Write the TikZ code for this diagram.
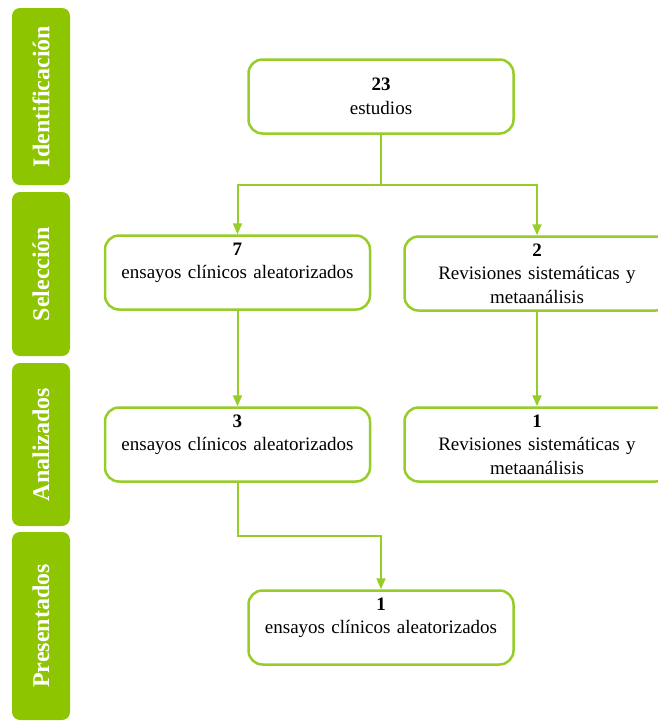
\documentclass[tikz,border=0pt]{standalone}
\usepackage{fontspec}
\setmainfont{Liberation Serif}
\usepackage{tikz}
\usetikzlibrary{arrows.meta,shapes}
\pgfdeclarelayer{edgelayer}
\pgfdeclarelayer{nodelayer}
\pgfsetlayers{edgelayer,nodelayer,main}
\definecolor{tabgreen}{RGB}{141,198,0}
\definecolor{linegreen}{RGB}{150,205,40}
\tikzstyle{stage}=[rectangle, rounded corners=8pt, fill=tabgreen, draw=none, minimum height=58pt, text=white, font=\fontsize{24}{28}\selectfont\bfseries, rotate=90]
\tikzstyle{box}=[rectangle, rounded corners=14pt, fill=white, draw=linegreen, line width=2.5pt, minimum width=265pt, minimum height=74pt, text width=250pt, align=center, font=\fontsize{19}{23.5}\selectfont]
\tikzstyle{link}=[-, draw=linegreen, line width=2pt]
\tikzstyle{arrow}=[-{Triangle[length=11pt,width=9pt]}, draw=linegreen, line width=2pt]

\begin{document}
\begin{tikzpicture}[x=1pt, y=-1pt]
            \useasboundingbox (0,0) rectangle (657,724);
            \begin{pgfonlayer}{nodelayer}
                \node [style=stage, minimum width=177pt] (tabid) at (41, 96.5) {Identificación};
                \node [style=stage, minimum width=164pt] (tabsel) at (41, 274) {Selección};
                \node [style=stage, minimum width=163pt] (tabana) at (41, 444.5) {Analizados};
                \node [style=stage, minimum width=188pt] (tabpres) at (41, 626) {Presentados};
                \node [style=box] (ident) at (381, 96.5) {\textbf{23}\\estudios};
                \node [style=box] (selecta) at (237.5, 272.5) {\textbf{7}\\ensayos clínicos aleatorizados\\\mbox{}};
                \node [style=box] (selrev) at (537, 273.5) {\textbf{2}\\Revisiones sistemáticas y\\metaanálisis};
                \node [style=box] (anaeca) at (237.5, 444.5) {\textbf{3}\\ensayos clínicos aleatorizados\\\mbox{}};
                \node [style=box] (anarev) at (537, 444.5) {\textbf{1}\\Revisiones sistemáticas y\\metaanálisis};
                \node [style=box] (pres) at (381, 627.5) {\textbf{1}\\ensayos clínicos aleatorizados\\\mbox{}};
                \coordinate (split) at (381, 185);
                \coordinate (join) at (381, 536);
            \end{pgfonlayer}
            \begin{pgfonlayer}{edgelayer}
                \draw [style=link] (ident.south) to (split);
                \draw [style=arrow] (split) -| (selecta.north);
                \draw [style=arrow] (split) -| (selrev.north);
                \draw [style=arrow] (selecta.south) to (anaeca.north);
                \draw [style=arrow] (selrev.south) to (anarev.north);
                \draw [style=arrow] (anaeca.south) |- (join) to (pres.north);
            \end{pgfonlayer}
        \end{tikzpicture}
\end{document}
